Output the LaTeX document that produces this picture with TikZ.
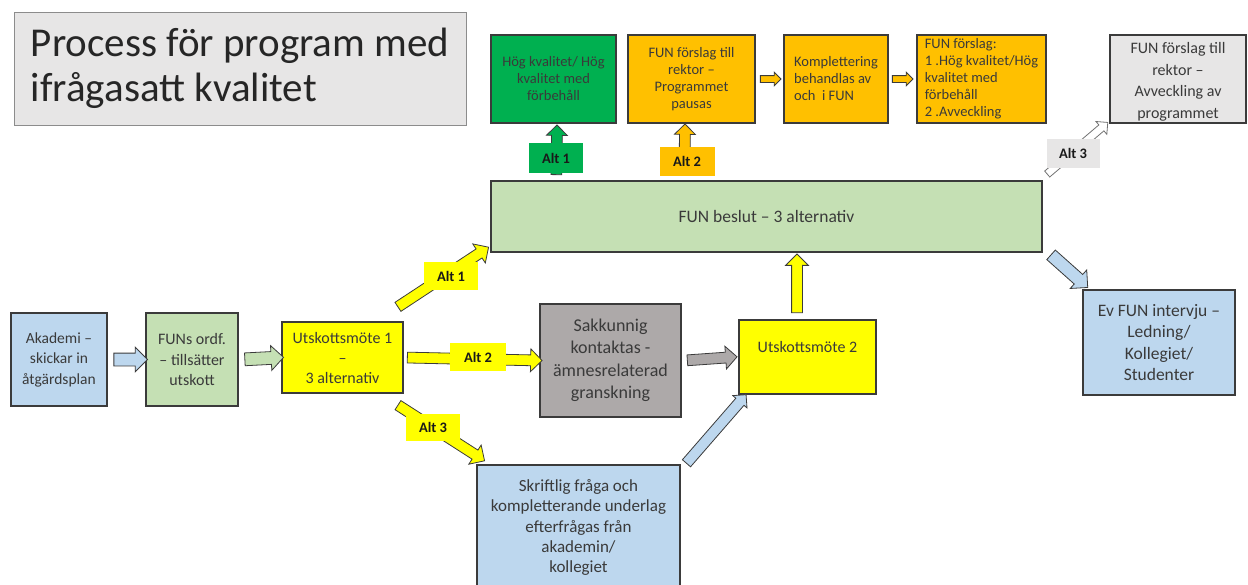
\documentclass[tikz,border=0pt]{standalone}
\usepackage{fontspec}
\setmainfont{Carlito}
\usetikzlibrary{shapes.arrows,calc}
\definecolor{lblue}{HTML}{BDD7EE}
\definecolor{lgreen}{HTML}{C5E0B4}
\definecolor{yel}{HTML}{FFFF00}
\definecolor{orng}{HTML}{FFC000}
\definecolor{grn}{HTML}{00B050}
\definecolor{gbox}{HTML}{ADA9A9}
\definecolor{lgray}{HTML}{E7E6E6}
\definecolor{bline}{HTML}{3B3B3B}
\definecolor{txt}{HTML}{3A3A3A}
\newcommand\blockarrow[4]{\path let \p1=(#3), \p2=(#4), \n1={veclen(\x2-\x1,\y2-\y1)}, \n2={atan2(\y2-\y1,\x2-\x1)} in node[#1, minimum height=\n1, rotate=\n2] (#2) at ($(\p1)!0.5!(\p2)$) {};}
\tikzset{
  box/.style={draw=bline, line width=1.3pt, align=center, inner sep=2pt, text=txt},
  topbox/.style={box, minimum height=88, font=\fontsize{14.5}{17}\selectfont},
  lbl/.style={minimum height=28, inner sep=0pt, font=\fontsize{14.5}{16}\bfseries, text=black!90},
  ba/.style={single arrow, inner xsep=0pt, outer sep=0pt, minimum width=0pt, single arrow head indent=0pt, line width=0.8pt, draw=bline},
  baL/.style={ba, inner ysep=6pt, single arrow head extend=6pt},
  baM/.style={ba, inner ysep=5pt, single arrow head extend=6pt},
  baS/.style={ba, inner ysep=3pt, single arrow head extend=3.5pt},
  baT/.style={ba, inner ysep=5pt, single arrow head extend=4pt},
  baU/.style={ba, inner ysep=5pt, single arrow head extend=5pt},
  baX/.style={ba, inner ysep=3.5pt, single arrow head extend=4.5pt},
}
\begin{document}
\begin{tikzpicture}[x=1pt,y=-1pt]
\useasboundingbox (0,0) rectangle (1248,584);
% title
\node[draw=black!45, line width=0.8pt, fill=lgray, minimum width=452, minimum height=113, align=left, inner xsep=0pt, text=black!85, font=\fontsize{41}{45}\selectfont] (title) at (240,68.5) {Process för program med\\ifrågasatt kvalitet};
% top boxes
\node[topbox, fill=grn, minimum width=125] (hq) at (553.5,79) {Hög kvalitet/ Hög\\kvalitet med\\förbehåll};
\node[topbox, fill=orng, minimum width=127] (fr) at (691.5,79) {FUN förslag till\\rektor –\\Programmet\\pausas};
\node[topbox, fill=orng, minimum width=104, align=left] (ko) at (836,79) {Komplettering\\behandlas av\\och\ \ i FUN};
\node[topbox, fill=orng, minimum width=129, align=left] (ff) at (981.5,79) {FUN förslag:\\1 .Hög kvalitet/Hög\\kvalitet med\\förbehåll\\2 .Avveckling};
\node[box, fill=lgray, minimum width=136, minimum height=88] (av) at (1178,79) {};
\node[align=center, inner sep=0pt, text=txt, font=\fontsize{16}{21.5}\selectfont] (avt) at (1178,82) {FUN förslag till\\rektor –\\Avveckling av\\programmet};
% main boxes
\node[box, fill=lgreen, minimum width=551, minimum height=71, font=\fontsize{17.5}{20}\selectfont] (fb) at (766.5,216.5) {FUN beslut – 3 alternativ};
\node[box, fill=lblue, minimum width=96, minimum height=93, font=\fontsize{15.5}{20.5}\selectfont] (ak) at (59,359.5) {Akademi –\\skickar in\\åtgärdsplan};
\node[box, fill=lgreen, minimum width=92, minimum height=93, font=\fontsize{16}{20.5}\selectfont] (fo) at (192,359.5) {FUNs ordf.\\– tillsätter\\utskott};
\node[box, fill=yel, minimum width=121, minimum height=71, font=\fontsize{16}{20}\selectfont] (u1) at (342.5,357.5) {Utskottsmöte 1\\–\\3 alternativ};
\node[box, fill=gbox, minimum width=141, minimum height=113, font=\fontsize{18}{22.5}\selectfont] (sk) at (610.5,360.5) {Sakkunnig\\kontaktas -\\ämnesrelaterad\\granskning};
\node[box, fill=yel, minimum width=137, minimum height=74, font=\fontsize{16}{20}\selectfont] (u2) at (807.5,357) {Utskottsmöte 2\\~};
\node[box, fill=lblue, minimum width=203, minimum height=125, font=\fontsize{17}{20.3}\selectfont] (sf) at (578.5,527.5) {Skriftlig fråga och\\kompletterande underlag\\efterfrågas från\\akademin/\\kollegiet};
\node[box, fill=lblue, minimum width=152, minimum height=105, font=\fontsize{17.5}{21.3}\selectfont] (ev) at (1159,342.5) {Ev FUN intervju –\\Ledning/\\Kollegiet/\\Studenter};
% block arrows
\blockarrow{baL, fill=lblue}{a1}{[xshift=3]ak.east}{[xshift=-1]fo.west}
\blockarrow{baL, fill=lgreen}{a2}{[xshift=3]fo.east}{[xshift=-1]u1.west}
\blockarrow{baM, fill=yel}{a3}{[xshift=1]u1.east}{sk.west}
\blockarrow{baM, fill=yel}{a4}{[shift={(-8,-13)}]u1.north east}{[shift={(-4,-4)}]fb.south west}
\blockarrow{baM, fill=yel}{a5}{[shift={(-8,10)}]u1.south east}{[shift={(6,-5)}]sf.north west}
\blockarrow{baM, fill=gbox}{a6}{[xshift=3]sk.east}{[xshift=-4]u2.west}
\blockarrow{baM, fill=yel}{a7}{[shift={(-10.5,-4)}]u2.north}{[shift={(30.5,4)}]fb.south}
\blockarrow{baT, fill=lblue}{a8}{[shift={(4,1)}]sf.north east}{[shift={(6,2)}]u2.south west}
\blockarrow{baL, fill=lblue}{a9}{[shift={(6,0)}]fb.south east}{[shift={(3,-4)}]ev.north west}
\blockarrow{baU, fill=grn}{a10}{[shift={(66,-3)}]fb.north west}{[shift={(3.5,4)}]hq.south}
\blockarrow{baU, fill=orng}{a11}{[shift={(194,-3)}]fb.north west}{[shift={(-6.5,3)}]fr.south}
\blockarrow{baX, fill=white, draw=black!55}{a12}{[shift={(3,-5)}]fb.north east}{[shift={(-3,0)}]av.south west}
\blockarrow{baS, fill=orng}{a13}{[xshift=3]fr.east}{[xshift=-4]ko.west}
\blockarrow{baS, fill=orng}{a14}{[xshift=2]ko.east}{[xshift=-5]ff.west}
% labels
\node[lbl, fill=yel, minimum width=54] (la1) at (451,276) {Alt 1};
\node[lbl, fill=yel, minimum width=56] (la2) at (478,357) {Alt 2};
\node[lbl, fill=yel, minimum width=54, minimum height=27] (la3) at (433,427) {Alt 3};
\node[lbl, fill=grn, minimum width=54, minimum height=30] (ta1) at (556,158) {Alt 1};
\node[lbl, fill=orng, minimum width=55, minimum height=29] (ta2) at (687,161) {Alt 2};
\node[lbl, fill=lgray, minimum width=53, minimum height=29] (ta3) at (1073,153) {Alt 3};
\end{tikzpicture}
\end{document}
